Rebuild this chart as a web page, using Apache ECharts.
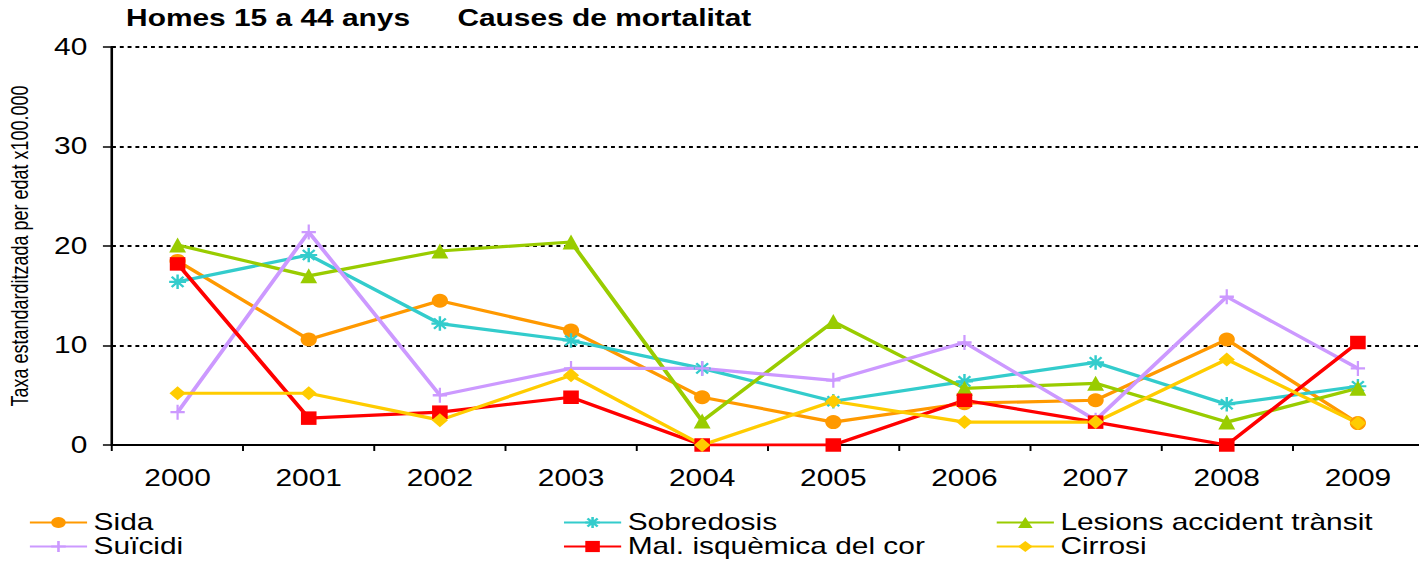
<!DOCTYPE html>
<html>
<head>
<meta charset="utf-8">
<script src="https://cdn.jsdelivr.net/npm/echarts@6/dist/echarts.min.js"></script>
<style>
  html, body { margin: 0; padding: 0; background: #fff; overflow: hidden; }
  /* chart is laid out narrower and widened horizontally to fill the page */
  #chart { width: 1092px; height: 563px; transform: scaleX(1.2995); transform-origin: 0 0; }
</style>
</head>
<body>
<div id="chart"></div>
<script>
const years = ['2000', '2001', '2002', '2003', '2004', '2005', '2006', '2007', '2008', '2009'];
const sida = [18.5, 10.6, 14.5, 11.5, 4.8, 2.3, 4.2, 4.5, 10.6, 2.2];
const sobredosis = [16.4, 19.1, 12.2, 10.5, 7.7, 4.4, 6.4, 8.3, 4.1, 5.9];
const lesions = [20.1, 17.0, 19.5, 20.4, 2.4, 12.4, 5.7, 6.2, 2.3, 5.7];
const suicidi = [3.3, 21.4, 5.0, 7.7, 7.7, 6.5, 10.3, 2.5, 14.9, 7.7];
const malIsquemica = [18.2, 2.7, 3.3, 4.8, 0, 0, 4.5, 2.3, 0, 10.3];
const cirrosi = [5.2, 5.2, 2.5, 7.0, 0, 4.4, 2.3, 2.3, 8.6, 2.2];
const yTicks = [0, 10, 20, 30, 40];

const FONT = '"Liberation Sans", Arial, Helvetica, sans-serif';
const ASTERISK = 'path://M0,5L10,5M5,0L5,10M1.5,1.5L8.5,8.5M8.5,1.5L1.5,8.5';
const PLUS = 'path://M0,5L10,5M5,0L5,10';

function lineSeries(name, data, color, symbol, size, stroked) {
  return {
    name: name,
    type: 'line',
    data: data,
    symbol: symbol,
    symbolSize: size,
    showAllSymbol: true,
    lineStyle: { color: color, width: 3.2 },
    itemStyle: stroked
      ? { color: 'rgba(0,0,0,0)', borderColor: color, borderWidth: 2 }
      : { color: color, borderColor: color, borderWidth: 0 },
    emphasis: { disabled: true },
    animation: false
  };
}

const legendBase = {
  orient: 'vertical',
  top: 511,
  height: 60,
  padding: 0,
  itemWidth: 44,
  itemHeight: 14,
  itemGap: 1,
  selectedMode: false,
  textStyle: { fontFamily: FONT, fontSize: 23, color: '#000' }
};

const chart = echarts.init(document.getElementById('chart'), null, { renderer: 'svg' });
chart.setOption({
  backgroundColor: '#fff',
  title: [
    { text: 'Homes 15 a 44 anys', left: 97, top: 7, padding: 0,
      textStyle: { fontFamily: FONT, fontSize: 23, fontWeight: 'bold', color: '#000' } },
    { text: 'Causes de mortalitat', left: 352, top: 7, padding: 0,
      textStyle: { fontFamily: FONT, fontSize: 23, fontWeight: 'bold', color: '#000' } }
  ],
  legend: [
    Object.assign({}, legendBase, { left: 22, data: ['Sida', 'Suïcidi'] }),
    Object.assign({}, legendBase, { left: 433, data: ['Sobredosis', 'Mal. isquèmica del cor'] }),
    Object.assign({}, legendBase, { left: 766, data: ['Lesions accident trànsit', 'Cirrosi'] })
  ],
  grid: { left: 86.2, top: 47, width: 1009.2, height: 398, containLabel: false, outerBoundsMode: 'none' },
  xAxis: {
    type: 'category',
    data: years,
    boundaryGap: true,
    axisLine: { lineStyle: { color: '#000', width: 2 } },
    axisTick: { show: true, length: 6, lineStyle: { color: '#000', width: 1.5 } },
    axisLabel: { fontFamily: FONT, fontSize: 23, color: '#000', margin: 22 },
    splitLine: { show: false }
  },
  yAxis: {
    type: 'value',
    min: yTicks[0],
    max: yTicks[yTicks.length - 1],
    interval: 10,
    name: 'Taxa estandarditzada per edat x100.000',
    nameLocation: 'middle',
    nameGap: 62,
    nameTextStyle: { fontFamily: FONT, fontSize: 18, color: '#000' },
    axisLine: { show: true, lineStyle: { color: '#000', width: 2 } },
    axisTick: { show: true, length: 7, lineStyle: { color: '#000', width: 1.5 } },
    axisLabel: { fontFamily: FONT, fontSize: 23, color: '#000', margin: 19 },
    splitLine: { show: true, lineStyle: { color: '#000', width: 1.8, type: [3, 3] } }
  },
  series: [
    lineSeries('Sida', sida, '#FF9900', 'circle', [12.5, 14], false),
    lineSeries('Sobredosis', sobredosis, '#33CCCC', ASTERISK, [13, 14.5], true),
    lineSeries('Lesions accident trànsit', lesions, '#99CC00', 'triangle', [13, 15], false),
    lineSeries('Suïcidi', suicidi, '#CC99FF', PLUS, [11, 15], true),
    lineSeries('Mal. isquèmica del cor', malIsquemica, '#FF0000', 'rect', [12, 13.5], false),
    lineSeries('Cirrosi', cirrosi, '#FFCC00', 'diamond', [12.5, 14], false)
  ]
});
</script>
</body>
</html>
